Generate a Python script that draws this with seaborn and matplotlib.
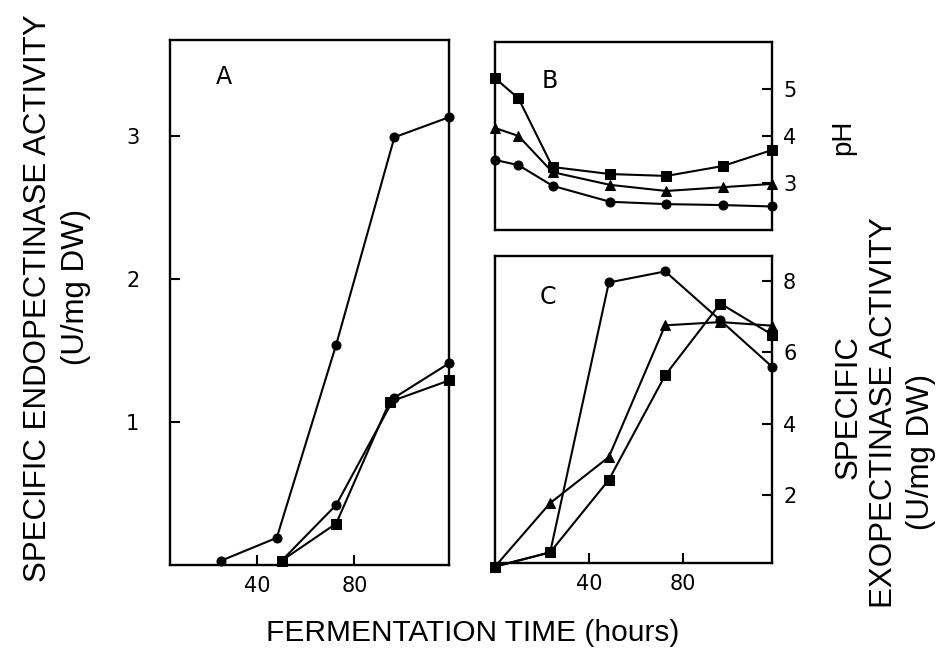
import matplotlib
matplotlib.use("Agg")
import matplotlib.pyplot as plt
import seaborn as sns
import numpy as np
import pandas as pd

# ---- data ----
# Panel A: specific endopectinase activity (U/mg DW)
a_hours_1 = [25, 48, 72.5, 96.5, 119]
a_endo_1 = [0.03, 0.19, 1.54, 2.99, 3.13]
a_hours_2 = [50, 72.5, 96.5, 119]
a_endo_2 = [0.03, 0.42, 1.17, 1.41]
a_hours_3 = [50, 72.5, 94.5, 119]
a_endo_3 = [0.03, 0.29, 1.14, 1.29]

# Panel B: pH
b_hours = [0, 10, 24.5, 49, 73, 97, 118]
b_ph_top = [5.23, 4.8, 3.34, 3.19, 3.15, 3.36, 3.7]
b_ph_mid = [4.17, 4.0, 3.23, 2.96, 2.83, 2.91, 2.98]
b_ph_low = [3.49, 3.38, 2.94, 2.6, 2.55, 2.53, 2.5]

# Panel C: specific exopectinase activity (U/mg DW)
c_hours = [0, 23.5, 48.5, 72.5, 96, 118]
c_exo_circ = [0, 0.4, 7.96, 8.27, 6.9, 5.6]
c_exo_sq = [0, 0.4, 2.43, 5.36, 7.37, 6.5]
c_exo_tri = [0, 1.78, 3.07, 6.76, 6.85, 6.75]

a_yticks = [1, 2, 3]
b_yticks = [3, 4, 5]
c_yticks = [2, 4, 6, 8]
x_ticks = [40, 80]

# ---- style ----
sns.set_style("ticks")
plt.rcParams['font.family'] = ['DejaVu Sans']
plt.rcParams['text.color'] = 'black'
LABEL_FONT = ['Liberation Sans', 'DejaVu Sans']

fig = plt.figure(figsize=(9.47, 6.62), dpi=100)
axA = fig.add_axes([0.1795, 0.1465, 0.2946, 0.7931])
axB = fig.add_axes([0.5227, 0.6526, 0.2925, 0.2840])
axC = fig.add_axes([0.5227, 0.1495, 0.2925, 0.4637])

lw = 1.5
kw = dict(color="black", linewidth=lw, markersize=6.5, markeredgecolor="black",
          clip_on=False)

def draw(ax, x, y, marker):
    df = pd.DataFrame({"x": x, "y": y})
    sns.lineplot(data=df, x="x", y="y", ax=ax, marker=marker, sort=False,
                 estimator=None, **kw)

draw(axA, a_hours_1, a_endo_1, "o")
draw(axA, a_hours_2, a_endo_2, "o")
draw(axA, a_hours_3, a_endo_3, "s")

draw(axB, b_hours, b_ph_top, "s")
draw(axB, b_hours, b_ph_mid, "^")
draw(axB, b_hours, b_ph_low, "o")

draw(axC, c_hours, c_exo_circ, "o")
draw(axC, c_hours, c_exo_sq, "s")
draw(axC, c_hours, c_exo_tri, "^")

axA.set_xlim(4, 119)
axA.set_ylim(0, 3.67)
axB.set_xlim(0, 118)
axB.set_ylim(2, 6)
axC.set_xlim(0, 118)
axC.set_ylim(0.1, 8.7)

for ax in (axA, axB, axC):
    ax.set_xlabel("")
    ax.set_ylabel("")
    for s in ax.spines.values():
        s.set_visible(True)
        s.set_linewidth(1.7)
        s.set_color("black")
    ax.tick_params(direction="in", length=7, width=1.5, labelsize=15,
                   colors="black", labelcolor="black", pad=8)

axA.set_xticks(x_ticks)
axA.set_xticklabels([str(t) for t in x_ticks])
axA.set_yticks(a_yticks)
axA.set_yticklabels([str(t) for t in a_yticks])
axA.tick_params(axis="y", pad=22)

axB.set_xticks([])
axB.yaxis.tick_right()
axB.set_yticks(b_yticks)
axB.set_yticklabels([str(t) for t in b_yticks])

axC.set_xticks(x_ticks)
axC.set_xticklabels([str(t) for t in x_ticks])
axC.yaxis.tick_right()
axC.set_yticks(c_yticks)
axC.set_yticklabels([str(t) for t in c_yticks])

axA.text(0.194, 0.9295, "A", transform=axA.transAxes, fontsize=17, ha="center",
         va="center", color="black")
axB.text(0.199, 0.793, "B", transform=axB.transAxes, fontsize=17, ha="center",
         va="center", color="black")
axC.text(0.191, 0.866, "C", transform=axC.transAxes, fontsize=17, ha="center",
         va="center", color="black")

W, H = 947, 662
def ftext(x, y, s, size, rot=90):
    fig.text(x / W, 1 - y / H, s, rotation=rot, ha="center", va="center",
             fontsize=size, family=LABEL_FONT, color="black")

ftext(38, 298, "SPECIFIC ENDOPECTINASE ACTIVITY", 22.5)
ftext(76, 287, "(U/mg DW)", 22.5)
ftext(843, 137, "pH", 20)
ftext(849, 407, "SPECIFIC", 22.5)
ftext(884, 413, "EXOPECTINASE ACTIVITY", 22.5)
ftext(921, 452, "(U/mg DW)", 22.5)
ftext(473, 633, "FERMENTATION TIME (hours)", 21.5, rot=0)

fig.savefig("out.png", dpi=100)
